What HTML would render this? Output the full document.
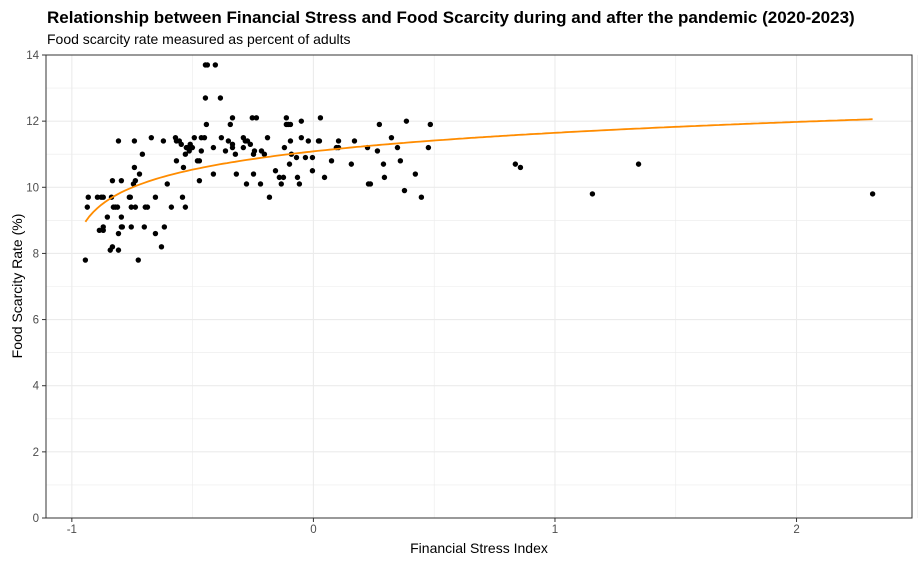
<!DOCTYPE html>
<html><head><meta charset="utf-8"><style>
body{margin:0;background:#fff;font-family:"Liberation Sans",Arial,sans-serif;}
svg text{font-family:"Liberation Sans",Arial,sans-serif;}
</style></head><body>
<svg id="chart" width="920" height="563">
<text x="47" y="23" font-size="17" font-weight="bold" fill="#000">Relationship between Financial Stress and Food Scarcity during and after the pandemic (2020-2023)</text>
<text x="47" y="44" font-size="14" fill="#000">Food scarcity rate measured as percent of adults</text>
<g id="grid"></g><g id="pts"></g><g id="fit"></g><g id="axes"></g>
<text x="479" y="553" font-size="14" text-anchor="middle">Financial Stress Index</text>
<text transform="translate(22,286) rotate(-90)" font-size="14" text-anchor="middle">Food Scarcity Rate (%)</text>
</svg>
<script>
const xs=[-0.447,-0.439,-0.406,-0.447,-0.385,-0.335,-0.253,-0.236,-0.443,-0.344,
-0.807,-0.741,-0.671,-0.621,-0.571,-0.567,-0.555,-0.547,-0.526,-0.518,-0.51,-0.501,-0.493,-0.464,-0.451,-0.464,-0.414,-0.381,-0.352,-0.335,-0.335,-0.29,-0.282,-0.273,-0.261,-0.29,-0.244,-0.248,
-0.708,-0.514,-0.53,-0.364,-0.323,-0.567,-0.48,-0.472,-0.538,-0.741,
-0.72,-0.832,-0.795,-0.737,-0.745,-0.605,-0.414,-0.472,-0.319,-0.248,-0.277,
-0.932,-0.894,-0.878,-0.87,-0.836,-0.762,-0.758,-0.654,-0.542,
-0.936,-0.828,-0.82,-0.811,-0.754,-0.737,-0.696,-0.687,-0.588,-0.53,
-0.853,-0.795,-0.886,-0.87,-0.87,-0.795,-0.791,-0.754,-0.7,-0.617,-0.807,-0.654,
-0.841,-0.832,-0.807,-0.629,-0.944,-0.725,
-0.112,-0.05,0.029,-0.112,-0.104,-0.095,-0.19,-0.05,-0.095,-0.021,0.021,0.025,0.104,0.17,
-0.12,0.095,0.104,0.224,0.265,-0.215,-0.203,-0.091,-0.07,-0.033,-0.004,0.075,-0.099,0.157,0.29,
-0.157,-0.004,-0.141,-0.124,-0.066,0.046,0.294,-0.219,-0.133,-0.058,0.228,0.236,-0.182,
0.273,0.385,0.484,0.323,0.348,0.36,0.422,0.476,0.377,0.447,0.836,0.857,1.155,1.346,2.315];
const ys=[13.7,13.7,13.7,12.7,12.7,12.1,12.1,12.1,11.9,11.9,
11.4,11.4,11.5,11.4,11.5,11.4,11.4,11.3,11.2,11.2,11.3,11.2,11.5,11.5,11.5,11.1,11.2,11.5,11.4,11.3,11.2,11.5,11.4,11.4,11.3,11.2,11.1,11.0,
11.0,11.1,11.0,11.1,11.0,10.8,10.8,10.8,10.6,10.6,
10.4,10.2,10.2,10.2,10.1,10.1,10.4,10.2,10.4,10.4,10.1,
9.7,9.7,9.7,9.7,9.7,9.7,9.7,9.7,9.7,
9.4,9.4,9.4,9.4,9.4,9.4,9.4,9.4,9.4,9.4,
9.1,9.1,8.7,8.8,8.7,8.8,8.8,8.8,8.8,8.8,8.6,8.6,
8.1,8.2,8.1,8.2,7.8,7.8,
12.1,12.0,12.1,11.9,11.9,11.9,11.5,11.5,11.4,11.4,11.4,11.4,11.4,11.4,
11.2,11.2,11.2,11.2,11.1,11.1,11.0,11.0,10.9,10.9,10.9,10.8,10.7,10.7,10.7,
10.5,10.5,10.3,10.3,10.3,10.3,10.3,10.1,10.1,10.1,10.1,10.1,9.7,
11.9,12.0,11.9,11.5,11.2,10.8,10.4,11.2,9.9,9.7,10.7,10.6,9.8,10.7,9.8];
const xTicks=[-1,0,1,2];
const yTicks=[0,2,4,6,8,10,12,14];
const fitParams=[11.07,0.82,1.02]; // y = a + b*ln(x+c)
const NS='http://www.w3.org/2000/svg';
const L=46,R=912,T=55,B=518,xmin=-1.107,xmax=2.478,ymin=0,ymax=14;
const sx=v=>L+(v-xmin)/(xmax-xmin)*(R-L);
const sy=v=>B-(v-ymin)/(ymax-ymin)*(B-T);
function mk(tag,attrs,parent){const e=document.createElementNS(NS,tag);for(const k in attrs)e.setAttribute(k,attrs[k]);parent.appendChild(e);return e;}
const grid=document.getElementById('grid'),axes=document.getElementById('axes');
for(let v=-1;v<=2.5;v+=0.5){const line=mk('line',{x1:sx(v),x2:sx(v),y1:T,y2:B,stroke:'#ebebeb','stroke-width':Number.isInteger(v)?1.1:0.6},grid);

}
for(let v=0;v<=14;v+=1){const line=mk('line',{x1:L,x2:R,y1:sy(v),y2:sy(v),stroke:'#ebebeb','stroke-width':v%2===0?1.1:0.6},grid);

}
const frame=mk('rect',{x:L,y:T,width:R-L,height:B-T,fill:'none',stroke:'#333','stroke-width':1},axes);


xTicks.forEach(v=>{mk('line',{x1:sx(v),x2:sx(v),y1:B,y2:B+4,stroke:'#333'},axes);
const t=mk('text',{x:sx(v),y:B+15,'font-size':11.5,'text-anchor':'middle',fill:'#4d4d4d'},axes);t.textContent=v;

});
yTicks.forEach(v=>{mk('line',{x1:L-4,x2:L,y1:sy(v),y2:sy(v),stroke:'#333'},axes);
const t=mk('text',{x:L-7,y:sy(v)+4,'font-size':11.5,'text-anchor':'end',fill:'#4d4d4d'},axes);t.textContent=v;

});
const pts=document.getElementById('pts');
xs.forEach((x,i)=>{const c=mk('circle',{cx:sx(x),cy:sy(ys[i]),r:2.7,fill:'#000'},pts);

});
const x0=Math.min(...xs),x1=Math.max(...xs);let d='';
for(let i=0;i<=200;i++){const x=x0+(x1-x0)*i/200;const y=fitParams[0]+fitParams[1]*Math.log(x+fitParams[2]);d+=(i?'L':'M')+sx(x).toFixed(1)+','+sy(y).toFixed(1);}
const p=mk('path',{d:d,fill:'none',stroke:'#ff8c00','stroke-width':1.8},document.getElementById('fit'));


</script>
</body></html>
